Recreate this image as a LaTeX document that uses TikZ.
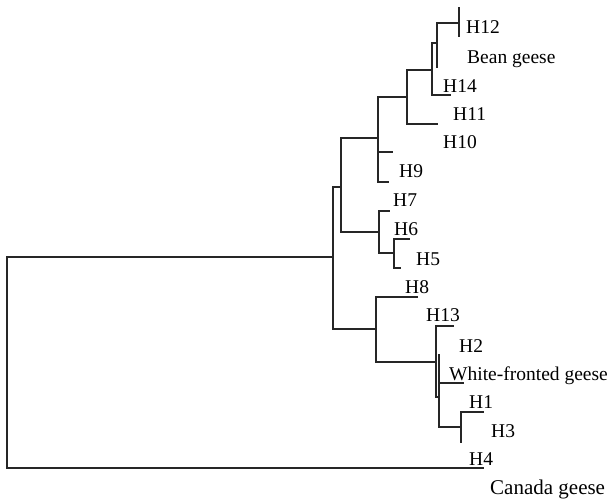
\documentclass[tikz,border=0pt]{standalone}
\usepackage{fontspec}
\setmainfont{Liberation Serif}
\begin{document}
\begin{tikzpicture}[x=1pt,y=-1pt,
  branch/.style={line width=1.1pt, draw=black!85, line cap=rect},
  lab/.style={anchor=base west, inner sep=0pt, font=\fontsize{19.5}{21}\selectfont}]
\useasboundingbox[fill=white] (0,0) rectangle (611,499);

% internal nodes (x = branching depth, y = where the parent branch joins)
\coordinate (r)   at (7,257);
\coordinate (n1)  at (333,257);
\coordinate (n2)  at (341,187);
\coordinate (n3)  at (378,138);
\coordinate (n4)  at (407,97);
\coordinate (n5)  at (432,70);
\coordinate (n6)  at (437,43);
\coordinate (n7)  at (459,23);
\coordinate (n8)  at (379,232);
\coordinate (n9)  at (394,253);
\coordinate (n10) at (376,329);
\coordinate (n11) at (436,362);
\coordinate (n12) at (439,397);
\coordinate (n13) at (461,427);

% branch tips
\coordinate (t4)  at (483,468);
\coordinate (t7a) at (459,8);
\coordinate (t7b) at (459,36);
\coordinate (t6b) at (437,67);
\coordinate (t14) at (450,95);
\coordinate (t10) at (437,124);
\coordinate (t9a) at (392,152);
\coordinate (t9b) at (388,182);
\coordinate (tH7) at (389,211);
\coordinate (tH6) at (409,239);
\coordinate (tH5) at (400,268);
\coordinate (tH8) at (417,297);
\coordinate (t13) at (453,326);
\coordinate (t2)  at (439,355);
\coordinate (twf) at (463,383);
\coordinate (tH1) at (483,412);
\coordinate (tH3) at (461,442);

% root
\draw[branch] (r |- n1) -- (r |- t4);
\draw[branch] (r |- n1) -- (n1);
\draw[branch] (r |- t4) -- (t4);
% ingroup
\draw[branch] (n1 |- n2) -- (n1 |- n10);
\draw[branch] (n1 |- n2) -- (n2);
\draw[branch] (n1 |- n10) -- (n10);
% upper clade
\draw[branch] (n2 |- n3) -- (n2 |- n8);
\draw[branch] (n2 |- n3) -- (n3);
\draw[branch] (n2 |- n8) -- (n8);
\draw[branch] (n3 |- n4) -- (n3 |- t9b);
\draw[branch] (n3 |- n4) -- (n4);
\draw[branch] (n3 |- t9a) -- (t9a);
\draw[branch] (n3 |- t9b) -- (t9b);
\draw[branch] (n4 |- n5) -- (n4 |- t10);
\draw[branch] (n4 |- n5) -- (n5);
\draw[branch] (n4 |- t10) -- (t10);
\draw[branch] (n5 |- n6) -- (n5 |- t14);
\draw[branch] (n5 |- n6) -- (n6);
\draw[branch] (n5 |- t14) -- (t14);
\draw[branch] (n6 |- n7) -- (t6b);
\draw[branch] (n6 |- n7) -- (n7);
\draw[branch] (t7a) -- (t7b);
\draw[branch] (n8 |- tH7) -- (n8 |- n9);
\draw[branch] (n8 |- tH7) -- (tH7);
\draw[branch] (n8 |- n9) -- (n9);
\draw[branch] (n9 |- tH6) -- (n9 |- tH5);
\draw[branch] (n9 |- tH6) -- (tH6);
\draw[branch] (n9 |- tH5) -- (tH5);
% lower clade
\draw[branch] (n10 |- tH8) -- (n10 |- n11);
\draw[branch] (n10 |- tH8) -- (tH8);
\draw[branch] (n10 |- n11) -- (n11);
\draw[branch] (n11 |- t13) -- (n11 |- n12);
\draw[branch] (n11 |- t13) -- (t13);
\draw[branch] (n11 |- n12) -- (n12);
\draw[branch] (t2) -- (n12 |- n13);
\draw[branch] (n12 |- twf) -- (twf);
\draw[branch] (n12 |- n13) -- (n13);
\draw[branch] (n13 |- tH1) -- (tH3);
\draw[branch] (n13 |- tH1) -- (tH1);

% labels
\node[lab] (lH12)  at (466,33)  {H12};
\node[lab] (lbean) at (467,63)  {Bean geese};
\node[lab] (lH14)  at (443,92)  {H14};
\node[lab] (lH11)  at (453,120) {H11};
\node[lab] (lH10)  at (443,148) {H10};
\node[lab] (lH9)   at (399,177) {H9};
\node[lab] (lH7)   at (393,206) {H7};
\node[lab] (lH6)   at (394,235) {H6};
\node[lab] (lH5)   at (416,265) {H5};
\node[lab] (lH8)   at (405,293) {H8};
\node[lab] (lH13)  at (426,321) {H13};
\node[lab] (lH2)   at (459,352) {H2};
\node[lab] (lwf)   at (449,380) {White-fronted geese};
\node[lab] (lH1)   at (469,408) {H1};
\node[lab] (lH3)   at (491,437) {H3};
\node[lab] (lH4)   at (469,465) {H4};
\node[lab, font=\fontsize{21}{23}\selectfont] (lcan) at (490,494) {Canada geese};
\end{tikzpicture}
\end{document}
